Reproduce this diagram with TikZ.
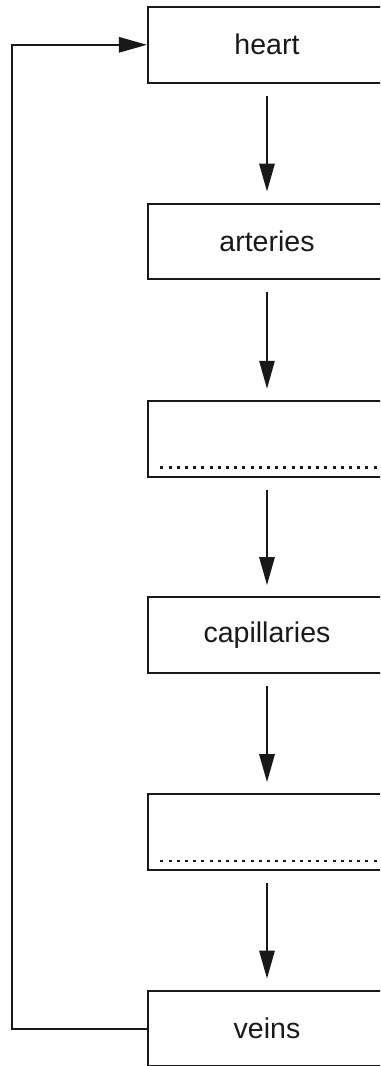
\documentclass[tikz,border=0pt]{standalone}
\usepackage{fontspec}
\setmainfont{Liberation Sans}
\usetikzlibrary{arrows.meta}
\begin{document}
\begin{tikzpicture}[x=0.75pt,y=-0.75pt,
  box/.style={draw=black!90, line width=1.6pt, rectangle, inner sep=0pt,
    minimum width=178.5pt, minimum height=56.8pt,
    font=\fontsize{21.4pt}{25pt}\selectfont, text=black!90},
  arr/.style={draw=black!90, line width=1.5pt,
    -{Triangle[length=21pt,width=11.5pt]}},
  dotline/.style={draw=black!90, line width=1.9pt, dash pattern=on 2.25pt off 3.9pt}]
\useasboundingbox (0,0) rectangle (380,1066);
\clip (0,0) rectangle (380,1066);
\node[box] (heart) at (267,44.8) {heart};
\node[box] (arteries) at (267,241.5) {arteries};
\node[box] (blankA) at (267,438.7) {};
\node[box] (capillaries) at (267,635) {capillaries};
\node[box] (blankB) at (267,832) {};
\node[box] (veins) at (267,1028.5) {veins};
\draw[dotline] ([shift={(13.5,-10)}]blankA.south west) -- ([shift={(-5,-10)}]blankA.south east);
\draw[dotline] ([shift={(13.5,-10)}]blankB.south west) -- ([shift={(-5,-10)}]blankB.south east);
\foreach \a/\b in {heart/arteries, arteries/blankA, blankA/capillaries, capillaries/blankB, blankB/veins}
  \draw[arr] ([yshift=-9pt]\a.south) -- ([yshift=8.25pt]\b.north);
\coordinate (loop) at (12,1028.5);
\draw[arr] (veins.west) -- (loop) |- (heart.west);
\end{tikzpicture}
\end{document}
